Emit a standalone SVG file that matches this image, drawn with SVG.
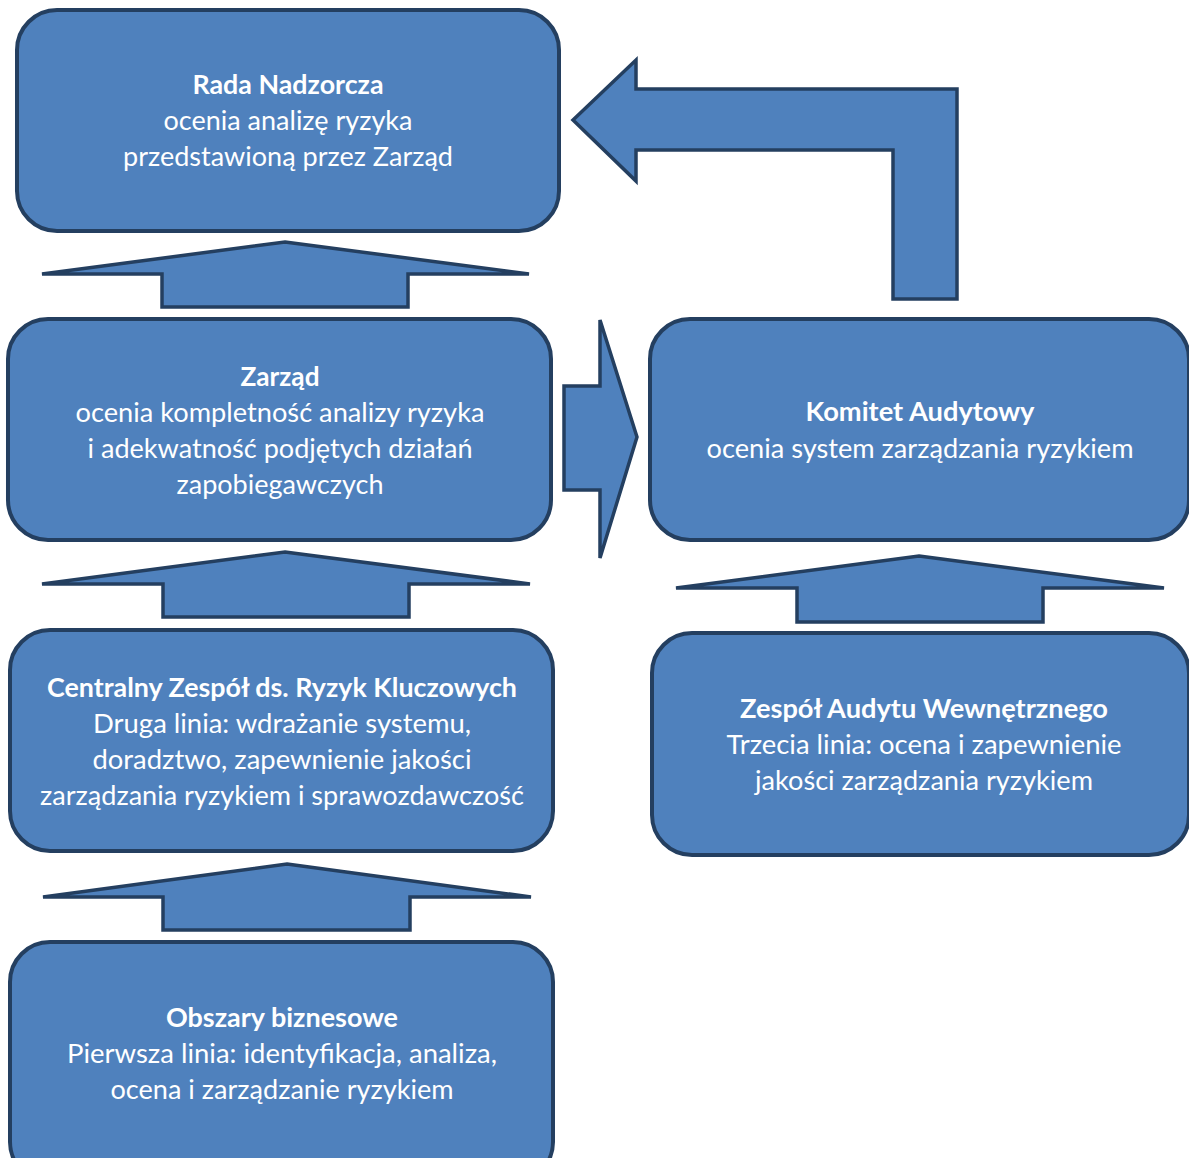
<svg xmlns="http://www.w3.org/2000/svg" width="1189" height="1158" viewBox="0 0 1189 1158">
<style>
.box{fill:#4f81bd;stroke:#243f60;stroke-width:4}
.arr{fill:#4f81bd;stroke:#243f60;stroke-width:3.5;stroke-linejoin:miter;stroke-miterlimit:4}
text{font-family:Lato,"Liberation Sans",sans-serif;font-size:26.5px;fill:#ffffff;text-anchor:middle}
.b{font-weight:bold}
</style>
<rect width="1189" height="1158" fill="#ffffff"/>
<g id="connectors">
<path class="arr" d="M285,242 L529,274 L408,274 L408,307 L162,307 L162,274 L42,274 Z"/>
<path class="arr" d="M285,552 L530,584 L409,584 L409,617 L163,617 L163,584 L42,584 Z"/>
<path class="arr" d="M287,864 L531,897 L410,897 L410,930 L163,930 L163,897 L43,897 Z"/>
<path class="arr" d="M919,556 L1164,588 L1043,588 L1043,622 L797,622 L797,588 L676,588 Z"/>
<path class="arr" d="M564,386 L600,386 L600,320 L637,437 L600,558 L600,490 L564,490 Z"/>
<path class="arr" d="M893,299 L893,150 L636,150 L636,181 L573,120 L636,60 L636,89 L957,89 L957,299 Z"/>
</g>
<g id="rada">
<rect class="box" x="17" y="10" width="542" height="221" rx="40"/>
<text x="288" y="94" class="b" textLength="191" lengthAdjust="spacingAndGlyphs">Rada Nadzorcza</text>
<text x="288" y="130" textLength="249" lengthAdjust="spacingAndGlyphs">ocenia analizę ryzyka</text>
<text x="288" y="166" textLength="330" lengthAdjust="spacingAndGlyphs">przedstawioną przez Zarząd</text>
</g>
<g id="zarzad">
<rect class="box" x="8" y="319" width="543" height="221" rx="40"/>
<text x="280" y="386" class="b" textLength="79" lengthAdjust="spacingAndGlyphs">Zarząd</text>
<text x="280" y="422" textLength="409" lengthAdjust="spacingAndGlyphs">ocenia kompletność analizy ryzyka</text>
<text x="280" y="458" textLength="385" lengthAdjust="spacingAndGlyphs">i adekwatność podjętych działań</text>
<text x="280" y="494" textLength="207" lengthAdjust="spacingAndGlyphs">zapobiegawczych</text>
</g>
<g id="komitet">
<rect class="box" x="650" y="319" width="539" height="221" rx="40"/>
<text x="920" y="421" class="b" textLength="229" lengthAdjust="spacingAndGlyphs">Komitet Audytowy</text>
<text x="920" y="458" textLength="427" lengthAdjust="spacingAndGlyphs">ocenia system zarządzania ryzykiem</text>
</g>
<g id="centralny">
<rect class="box" x="10" y="630" width="543" height="221" rx="40"/>
<text x="282" y="697" class="b" textLength="470" lengthAdjust="spacingAndGlyphs">Centralny Zespół ds. Ryzyk Kluczowych</text>
<text x="282" y="733" textLength="378" lengthAdjust="spacingAndGlyphs">Druga linia: wdrażanie systemu,</text>
<text x="282" y="769" textLength="379" lengthAdjust="spacingAndGlyphs">doradztwo, zapewnienie jakości</text>
<text x="282" y="805" textLength="484" lengthAdjust="spacingAndGlyphs">zarządzania ryzykiem i sprawozdawczość</text>
</g>
<g id="zespol">
<rect class="box" x="652" y="633" width="537" height="222" rx="40"/>
<text x="924" y="718" class="b" textLength="368" lengthAdjust="spacingAndGlyphs">Zespół Audytu Wewnętrznego</text>
<text x="924" y="754" textLength="395" lengthAdjust="spacingAndGlyphs">Trzecia linia: ocena i zapewnienie</text>
<text x="924" y="790" textLength="338" lengthAdjust="spacingAndGlyphs">jakości zarządzania ryzykiem</text>
</g>
<g id="obszary">
<rect class="box" x="10" y="942" width="543" height="240" rx="40"/>
<text x="282" y="1027" class="b" textLength="232" lengthAdjust="spacingAndGlyphs">Obszary biznesowe</text>
<text x="282" y="1063" textLength="430" lengthAdjust="spacingAndGlyphs">Pierwsza linia: identyfikacja, analiza,</text>
<text x="282" y="1099" textLength="343" lengthAdjust="spacingAndGlyphs">ocena i zarządzanie ryzykiem</text>
</g>
</svg>
